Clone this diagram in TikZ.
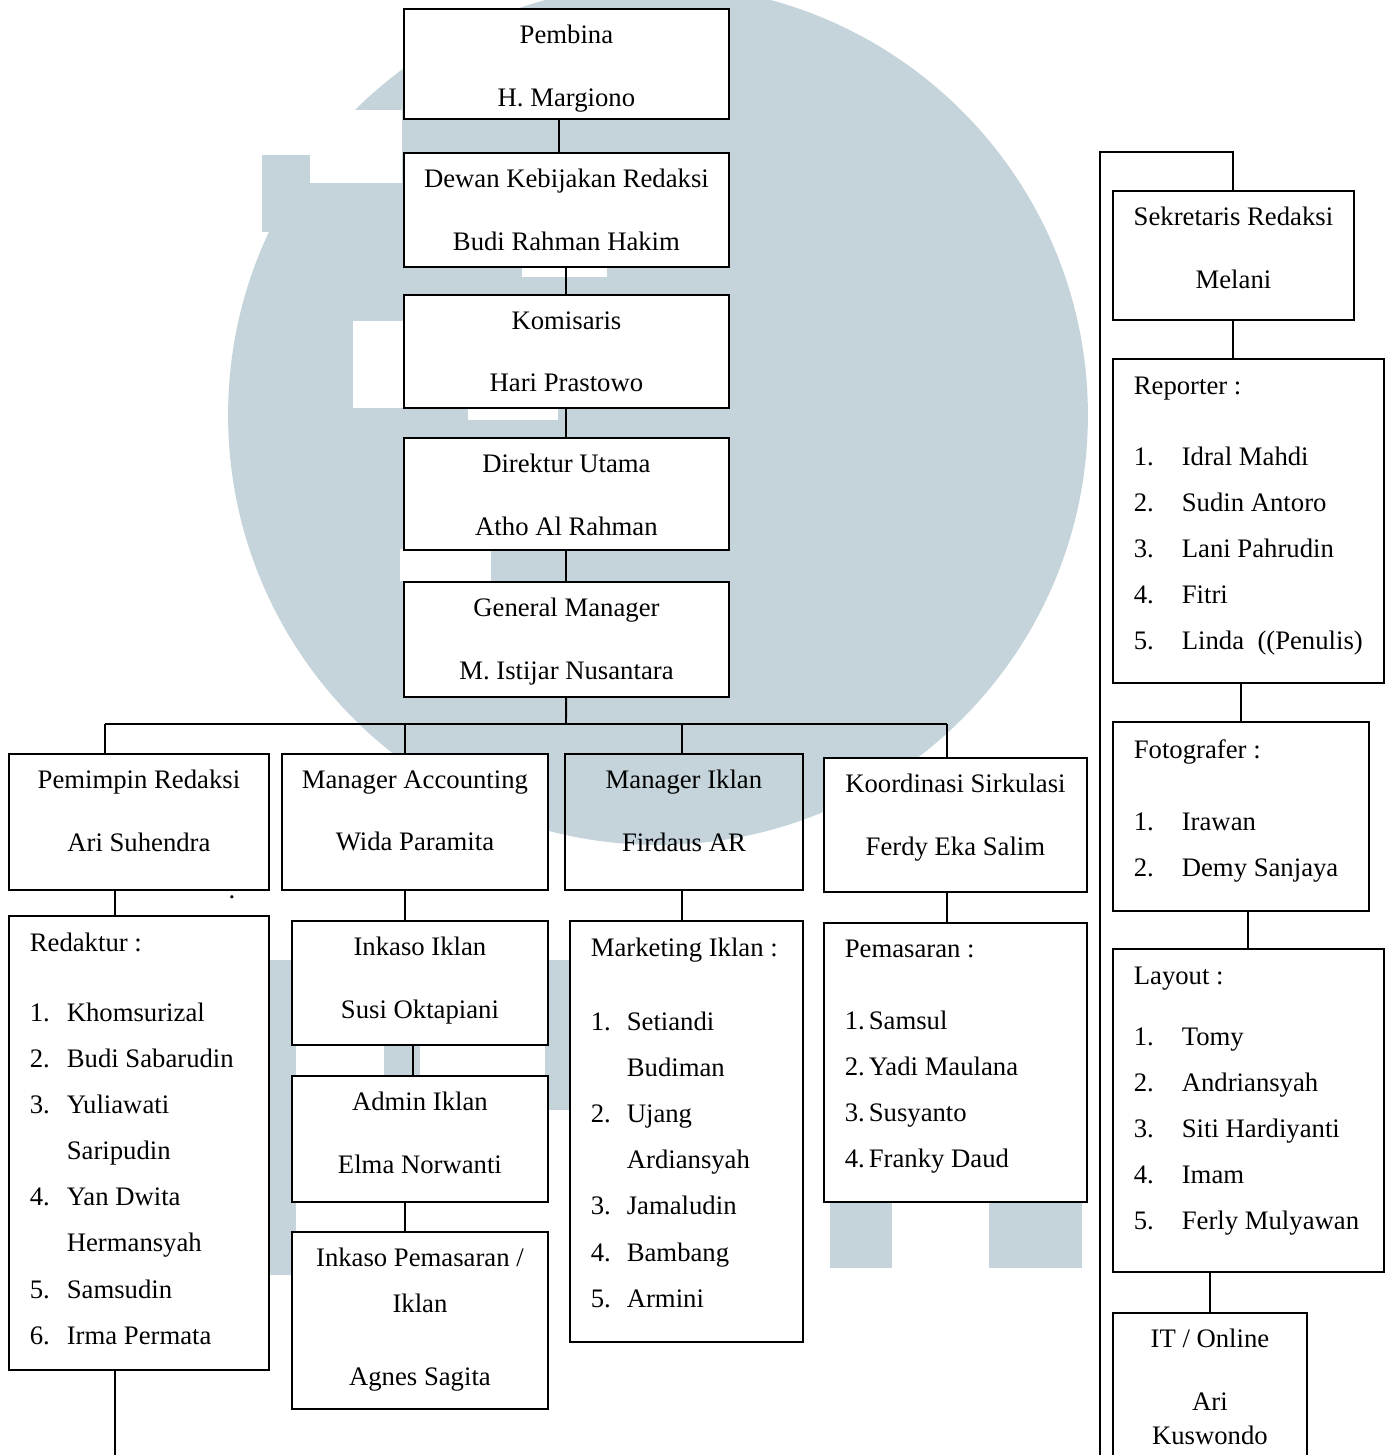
\documentclass[tikz,border=0pt]{standalone}
\usepackage{fontspec}
\setmainfont{Liberation Serif}
\usepackage{tikz}
\usetikzlibrary{positioning}
\definecolor{wmark}{RGB}{197,212,219}
\newcommand{\lno}[2]{\makebox[#1][l]{#2}}

\begin{document}
\begin{tikzpicture}[
    x=0.02cm, y=-0.02cm,
    every node/.style={font=\fontsize{15.2}{26.2}\selectfont},
    box/.style={draw, fill=white, line width=1.1pt, anchor=north west, inner sep=0},
    ttl/.style={anchor=north, align=center, inner sep=0},
    lst/.style={anchor=north west, align=left, inner sep=0},
    link/.style={line width=1.1pt}
]
    \useasboundingbox (0,0) rectangle (1392,1455);
    \clip (0,0) rectangle (1392,1455);

    % faint logo behind the chart
    \fill[wmark] (658,415) circle (8.6cm);
    \fill[wmark] (262,155) rectangle (312,232);
    \fill[white] (310,110) rectangle (402,183);
    \fill[white] (353,321) rectangle (437,408);
    \fill[white] (522,266) rectangle (607,277);
    \fill[white] (468,405) rectangle (558,420);
    \fill[white] (400,549) rectangle (491,581);
    \fill[wmark] (262,960) rectangle (296,1275);
    \fill[wmark] (384,1040) rectangle (420,1080);
    \fill[wmark] (545,960) rectangle (571,1110);
    \fill[wmark] (830,1201) rectangle (892,1268);
    \fill[wmark] (989,1201) rectangle (1082,1268);

    % middle column
    \node[box, minimum width=6.5cm, minimum height=2.2cm] (pembina) at (403,8) {};
    \node[box, minimum width=6.5cm, minimum height=2.28cm] (dewan) at (403,152) {};
    \node[box, minimum width=6.5cm, minimum height=2.26cm] (komisaris) at (403,294) {};
    \node[box, minimum width=6.5cm, minimum height=2.24cm] (direktur) at (403,437) {};
    \node[box, minimum width=6.5cm, minimum height=2.3cm] (gm) at (403,581) {};

    \node[ttl] (pembinaT) at ([yshift=-0.34cm]pembina.north) {Pembina\\[9.2pt]H. Margiono};
    \node[ttl] (dewanT) at ([yshift=-0.34cm]dewan.north) {Dewan Kebijakan Redaksi\\[9.2pt]Budi Rahman Hakim};
    \node[ttl] (komisarisT) at ([yshift=-0.34cm]komisaris.north) {Komisaris\\[9.2pt]Hari Prastowo};
    \node[ttl] (direkturT) at ([yshift=-0.34cm]direktur.north) {Direktur Utama\\[9.2pt]Atho Al Rahman};
    \node[ttl] (gmT) at ([yshift=-0.34cm]gm.north) {General Manager\\[9.2pt]M. Istijar Nusantara};

    % managers
    \node[box, minimum width=5.2cm, minimum height=2.72cm] (pemred) at (8,753) {};
    \node[box, minimum width=5.32cm, minimum height=2.72cm] (manacc) at (281,753) {};
    \node[box, fill=none, minimum width=4.76cm, minimum height=2.72cm] (maniklan) at (564,753) {};
    \node[box, minimum width=5.26cm, minimum height=2.68cm] (koord) at (823,757) {};

    \node[ttl] (pemredT) at ([yshift=-0.34cm]pemred.north) {Pemimpin Redaksi\\[9.2pt]Ari Suhendra};
    \node[ttl] (manaccT) at ([yshift=-0.34cm]manacc.north) {Manager Accounting\\[9.2pt]Wida Paramita};
    \node[ttl] (maniklanT) at ([yshift=-0.34cm]maniklan.north) {Manager Iklan\\[9.2pt]Firdaus AR};
    \node[ttl] (koordT) at ([yshift=-0.34cm]koord.north) {Koordinasi Sirkulasi\\[9.2pt]Ferdy Eka Salim};
    \node[inner sep=0] (stray) at (232,897) {.};

    % staff under the managers
    \node[box, minimum width=5.2cm, minimum height=9.08cm] (redaktur) at (8,915) {};
    \node[box, minimum width=5.12cm, minimum height=2.48cm] (inkaso) at (291,920) {};
    \node[box, minimum width=5.12cm, minimum height=2.52cm] (admin) at (291,1075) {};
    \node[box, minimum width=5.12cm, minimum height=3.54cm] (inkpem) at (291,1231) {};
    \node[box, minimum width=4.66cm, minimum height=8.42cm] (marketing) at (569,920) {};
    \node[box, minimum width=5.26cm, minimum height=5.58cm] (pemasaran) at (823,922) {};

    \node[lst] (redakturT) at ([xshift=0.43cm, yshift=-0.36cm]redaktur.north west) {Redaktur :\\[13.6pt]
        \lno{0.74cm}{1.}Khomsurizal\\
        \lno{0.74cm}{2.}Budi Sabarudin\\
        \lno{0.74cm}{3.}Yuliawati\\
        \lno{0.74cm}{}Saripudin\\
        \lno{0.74cm}{4.}Yan Dwita\\
        \lno{0.74cm}{}Hermansyah\\
        \lno{0.74cm}{5.}Samsudin\\
        \lno{0.74cm}{6.}Irma Permata};
    \node[ttl] (inkasoT) at ([yshift=-0.34cm]inkaso.north) {Inkaso Iklan\\[9.2pt]Susi Oktapiani};
    \node[ttl] (adminT) at ([yshift=-0.34cm]admin.north) {Admin Iklan\\[9.2pt]Elma Norwanti};
    \node[ttl] (inkpemT) at ([yshift=-0.34cm]inkpem.north) {Inkaso Pemasaran /\\Iklan\\[15.3pt]Agnes Sagita};
    \node[lst] (marketingT) at ([xshift=0.43cm, yshift=-0.36cm]marketing.north west) {Marketing Iklan :\\[15.9pt]
        \lno{0.72cm}{1.}Setiandi\\
        \lno{0.72cm}{}Budiman\\
        \lno{0.72cm}{2.}Ujang\\
        \lno{0.72cm}{}Ardiansyah\\
        \lno{0.72cm}{3.}Jamaludin\\
        \lno{0.72cm}{4.}Bambang\\
        \lno{0.72cm}{5.}Armini};
    \node[lst] (pemasaranT) at ([xshift=0.43cm, yshift=-0.36cm]pemasaran.north west) {Pemasaran :\\[14.8pt]
        \lno{0.48cm}{1.}Samsul\\
        \lno{0.48cm}{2.}Yadi Maulana\\
        \lno{0.48cm}{3.}Susyanto\\
        \lno{0.48cm}{4.}Franky Daud};

    % right column
    \node[box, minimum width=4.82cm, minimum height=2.58cm] (sekre) at (1112,190) {};
    \node[box, minimum width=5.42cm, minimum height=6.48cm] (reporter) at (1112,358) {};
    \node[box, minimum width=5.12cm, minimum height=3.78cm] (foto) at (1112,721) {};
    \node[box, minimum width=5.42cm, minimum height=6.46cm] (layout) at (1112,948) {};
    \node[box, minimum width=3.88cm, minimum height=3.4cm] (itonline) at (1112,1312) {};

    \node[ttl] (sekreT) at ([yshift=-0.34cm]sekre.north) {Sekretaris Redaksi\\[9.2pt]Melani};
    \node[lst] (reporterT) at ([xshift=0.43cm, yshift=-0.38cm]reporter.north west) {Reporter :\\[14.2pt]
        \lno{0.96cm}{1.}Idral Mahdi\\
        \lno{0.96cm}{2.}Sudin Antoro\\
        \lno{0.96cm}{3.}Lani Pahrudin\\
        \lno{0.96cm}{4.}Fitri\\
        \lno{0.96cm}{5.}Linda\ \ ((Penulis)};
    \node[lst] (fotoT) at ([xshift=0.43cm, yshift=-0.36cm]foto.north west) {Fotografer :\\[14.8pt]
        \lno{0.96cm}{1.}Irawan\\
        \lno{0.96cm}{2.}Demy Sanjaya};
    \node[lst] (layoutT) at ([xshift=0.43cm, yshift=-0.38cm]layout.north west) {Layout :\\[8.5pt]
        \lno{0.96cm}{1.}Tomy\\
        \lno{0.96cm}{2.}Andriansyah\\
        \lno{0.96cm}{3.}Siti Hardiyanti\\
        \lno{0.96cm}{4.}Imam\\
        \lno{0.96cm}{5.}Ferly Mulyawan};
    \node[ttl] (itonlineT) at ([yshift=-0.34cm]itonline.north) {IT / Online\\[9.2pt]Ari\\[-6.9pt]Kuswondo};

    % connectors
    \coordinate (bus) at (566,724);
    \coordinate (busL) at (105,724);
    \coordinate (busR) at (947,724);
    \coordinate (dropB) at (405,724);
    \coordinate (dropC) at (682,724);
    \coordinate (redline) at (115,1460);
    \coordinate (rtop) at (1100,152);
    \coordinate (rbot) at (1100,1460);

    \draw[link] ([xshift=-0.15cm]pembina.south) -- ([xshift=-0.15cm]dewan.north);
    \draw[link] (dewan) -- (komisaris);
    \draw[link] (komisaris) -- (direktur);
    \draw[link] (direktur) -- (gm);
    \draw[link] (gm) -- (bus);
    \draw[link] (busL) -- (busR);
    \draw[link] (busL) -- (busL |- pemred.north);
    \draw[link] (dropB) -- (dropB |- manacc.north);
    \draw[link] (dropC) -- (dropC |- maniklan.north);
    \draw[link] (busR) -- (busR |- koord.north);

    \draw[link] (redline |- pemred.south) -- (redline |- redaktur.north);
    \draw[link] (redline |- redaktur.south) -- (redline);
    \draw[link] (dropB |- manacc.south) -- (dropB |- inkaso.north);
    \draw[link] ([xshift=-0.14cm]inkaso.south) -- ([xshift=-0.14cm]admin.north);
    \draw[link] (dropB |- admin.south) -- (dropB |- inkpem.north);
    \draw[link] (dropC |- maniklan.south) -- (dropC |- marketing.north);
    \draw[link] (busR |- koord.south) -- (busR |- pemasaran.north);

    \draw[link] (rbot) -- (rtop) -| (sekre.north);
    \draw[link] (sekre.south) -- (sekre.south |- reporter.north);
    \draw[link] (foto.north) -- (foto.north |- reporter.south);
    \draw[link] (layout.north) -- (layout.north |- foto.south);
    \draw[link] (itonline.north) -- (itonline.north |- layout.south);
\end{tikzpicture}
\end{document}
